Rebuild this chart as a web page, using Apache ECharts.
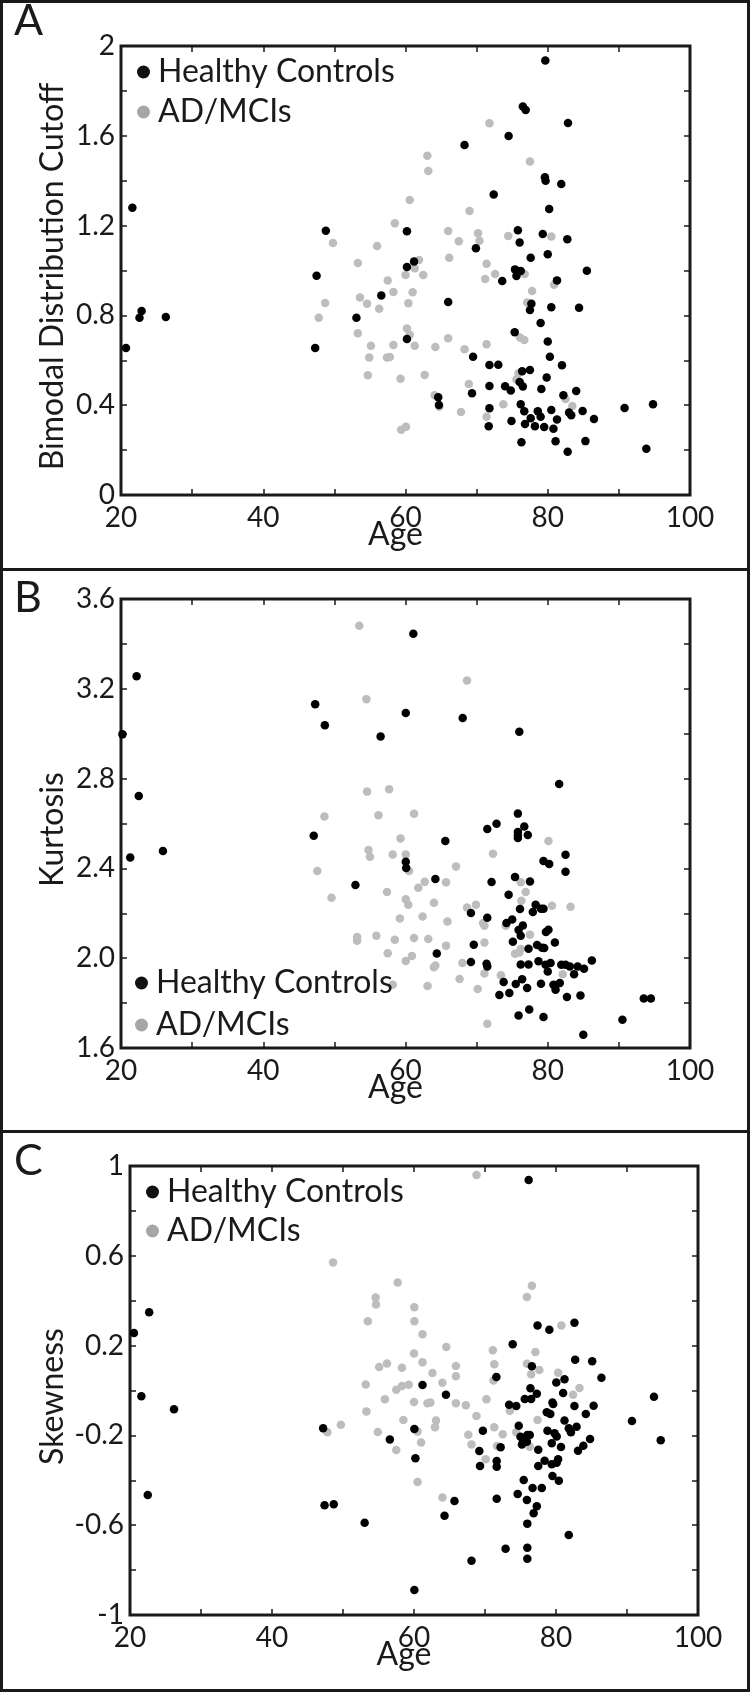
<!DOCTYPE html>
<html>
<head>
<meta charset="utf-8">
<script src="https://cdn.jsdelivr.net/npm/echarts@6/dist/echarts.min.js"></script>
<style>
html,body{margin:0;padding:0;background:#fff;}
#chart{width:750px;height:1692px;}
</style>
</head>
<body>
<div id="chart"></div>
<script>
// ---------------- DATA ----------------
const xTickLabels = ['20','40','60','80','100'];
const yTickLabelsA = ['0','0.4','0.8','1.2','1.6','2'];
const yTickLabelsB = ['1.6','2.0','2.4','2.8','3.2','3.6'];
const yTickLabelsC = ['-1','-0.6','-0.2','0.2','0.6','1'];

const seriesNames = ['Healthy Controls','AD/MCIs'];
const panelLetters = ['A','B','C'];
const yTitles = ['Bimodal Distribution Cutoff','Kurtosis','Skewness'];
const xTitle = 'Age';

// Panel A: Bimodal Distribution Cutoff  [age, value]
const hcA = [[21.6,1.28],[20.7,0.655],[22.6,0.79],[22.9,0.82],[26.3,0.793],[48.8,1.177],[47.5,0.977],[47.3,0.655],[53.1,0.79],[56.6,0.889],[60.2,1.175],[60.2,1.016],[61.2,1.04],[60.2,0.695],
[79.66,1.935],[76.5,1.73],[76.9,1.715],[82.85,1.657],[74.5,1.599],[68.3,1.559],[79.6,1.415],[79.7,1.40],[81.9,1.385],[72.4,1.339],[80.2,1.274],[75.8,1.179],[79.3,1.163],[82.75,1.139],[76.05,1.125],[69.9,1.099],[80.0,1.072],[77.6,1.057],
[75.4,1.005],[76.2,0.998],[75.6,0.975],[85.5,0.999],[73.6,0.953],[81.3,0.956],[66.0,0.86],[77.7,0.852],[77.5,0.824],[80.5,0.836],[84.4,0.834],[79.0,0.766],[75.35,0.725],[80.0,0.684],[69.5,0.616],[80.3,0.616],[71.8,0.579],[73.05,0.58],[82.0,0.578],[76.4,0.551],[77.5,0.557],[79.85,0.523],[76.05,0.503],[76.5,0.483],[71.8,0.486],[74.0,0.484],[74.8,0.465],[79.1,0.472],[69.35,0.453],[82.2,0.444],[84.0,0.463],[64.6,0.435],[64.7,0.401],[71.8,0.386],[76.2,0.404],[76.7,0.373],[78.6,0.373],[79.0,0.349],[77.6,0.342],[80.5,0.379],[83.0,0.368],[83.3,0.355],[84.9,0.374],[81.3,0.336],[86.5,0.339],[90.8,0.388],[94.8,0.404],[74.9,0.330],[71.7,0.306],[76.8,0.316],[78.2,0.306],[79.5,0.303],[80.8,0.295],[76.3,0.235],[81.1,0.239],[85.3,0.24],[82.8,0.193],[93.86,0.206]];
const adA = [[49.8,1.122],[47.8,0.79],[48.7,0.855],[53.3,1.033],[53.6,0.88],[53.3,0.72],[54.6,0.852],[56.0,1.109],[55.15,0.665],[54.9,0.613],[54.7,0.533],[56.3,0.83],[57.5,0.955],[58.5,1.21],[58.3,0.904],[58.3,0.668],[57.4,0.613],[57.8,0.615],[59.3,0.518],[59.4,0.291],[60.07,0.304],[60.6,1.314],[60.0,0.98],[60.4,0.854],[61.0,0.903],[60.2,0.742],[60.6,0.714],[61.3,0.665],[61.3,1.01],[61.9,1.047],[62.5,0.98],[62.7,0.535],[63.07,1.511],[63.2,1.443],
[71.8,1.656],[77.5,1.485],[69.0,1.265],[66.0,1.176],[67.5,1.130],[70.2,1.166],[70.4,1.133],[74.45,1.154],[80.5,1.151],[66.15,1.057],
[71.4,1.030],[72.6,0.984],[71.2,0.962],[76.75,0.984],[80.9,0.937],[77.8,0.909],[77.1,0.857],[66.0,0.698],[64.2,0.659],[68.3,0.649],[71.4,0.671],[76.1,0.702],[76.7,0.69],[68.9,0.494],[75.9,0.542],[75.6,0.515],[64.1,0.444],[64.75,0.393],[67.8,0.370],[73.75,0.404],[71.4,0.349],[82.5,0.428],[83.45,0.396]];

// Panel B: Kurtosis
const hcB = [[20.2,2.997],[22.2,3.256],[22.5,2.723],[21.3,2.449],[25.9,2.477],[47.3,3.131],[48.66,3.038],[47.1,2.545],[52.96,2.326],[56.5,2.988],[60.04,3.092],[61.1,3.445],[60.04,2.43],[60.1,2.402],
[68.04,3.07],[76.0,3.009],[81.6,2.776],[75.8,2.644],
[71.5,2.576],[72.8,2.599],[76.7,2.587],[75.8,2.562],[75.8,2.547],[75.8,2.535],[77.2,2.549],[65.6,2.522],[82.5,2.461],[79.4,2.433],[80.2,2.42],[82.5,2.385],[64.2,2.353],[72.1,2.339],[75.4,2.362],[77.5,2.342],[74.5,2.283],[76.1,2.219],[78.3,2.238],[79.05,2.22],[79.4,2.22],[77.9,2.206],[69.2,2.201],[71.5,2.18],[74.2,2.157],[75.0,2.172],[76.5,2.146],[75.9,2.126],[76.2,2.1],[79.75,2.117],[80.1,2.127],[75.1,2.073],[81.0,2.07],[69.6,2.06],[64.4,2.021],[78.5,2.059],[77.3,2.042],[79.2,2.047],[79.5,2.045],[69.2,1.983],[71.4,1.975],[71.5,1.963],[76.2,1.972],[77.3,1.972],[78.7,1.986],[79.7,1.971],[80.0,1.941],[80.4,1.979],[81.9,1.971],[82.5,1.971],[83.1,1.963],[84.2,1.963],[85.1,1.953],[86.2,1.99],[83.7,1.928],[73.8,1.894],[75.5,1.885],[76.4,1.906],[77.1,1.867],[79.05,1.886],[80.8,1.882],[81.1,1.86],[81.7,1.889],[73.2,1.836],[74.6,1.845],[82.7,1.827],[84.6,1.834],[93.5,1.82],[94.5,1.82],[75.9,1.745],[77.4,1.771],[79.4,1.738],[90.5,1.726],[85.0,1.659]];
const adB = [[53.5,3.481],[54.5,3.154],[54.6,2.742],[57.7,2.753],[48.6,2.631],[56.2,2.637],[61.2,2.643],[59.3,2.533],[54.8,2.482],[55.0,2.452],[58.2,2.462],[60.04,2.462],[47.6,2.388],[60.5,2.388],[49.6,2.269],[57.4,2.295],[61.8,2.314],[62.7,2.34],[60.04,2.263],[60.4,2.238],[59.2,2.177],[62.4,2.186],[53.2,2.094],[53.2,2.078],[55.9,2.1],[58.5,2.082],[61.2,2.09],[63.2,2.085],[57.5,2.022],[60.04,1.987],[60.9,2.01],[58.2,1.882],[63.1,1.876],
[68.65,3.237],
[80.1,2.522],[72.3,2.465],[67.1,2.408],[65.7,2.338],[76.2,2.338],[76.9,2.295],[64.0,2.247],[76.3,2.256],[68.65,2.226],[69.9,2.238],[80.6,2.234],[83.2,2.229],[65.9,2.164],[70.9,2.157],[71.1,2.145],[74.1,2.145],[77.5,2.105],[65.7,2.056],[71.1,2.07],[75.4,2.02],[76.0,2.025],[76.2,2.041],[64.0,1.96],[64.2,1.967],[68.0,1.979],[71.1,1.932],[67.6,1.907],[70.15,1.863],[73.4,1.924],[82.1,1.929],[71.5,1.708]];

// Panel C: Skewness
const hcC = [[20.56,0.256],[22.7,0.349],[21.6,-0.026],[26.2,-0.084],[22.5,-0.465],[47.2,-0.168],[47.4,-0.511],[48.7,-0.507],[53.05,-0.589],[56.6,-0.218],[60.05,-0.171],[60.2,-0.302],[61.2,0.024],[60.05,-0.889],
[76.15,0.938],[77.4,0.289],[79.06,0.271],[82.6,0.302],[73.9,0.206],[76.6,0.108],[82.7,0.137],[85.1,0.13],[71.6,0.06],[86.4,0.057],[80.04,0.036],[81.2,0.05],[76.4,0.01],[81.0,-0.011],[77.3,-0.014],[64.5,-0.019],[75.6,-0.038],[76.5,-0.038],[79.5,-0.053],[79.6,-0.06],[93.8,-0.028],[73.4,-0.063],[74.4,-0.069],[82.6,-0.069],[85.3,-0.068],
[74.75,-0.157],[69.7,-0.179],[90.7,-0.136],[94.75,-0.222],[81.2,-0.134],[81.8,-0.168],[82.1,-0.186],[82.9,-0.161],[84.2,-0.105],[78.7,-0.097],[79.2,-0.105],[84.8,-0.216],[83.85,-0.246],[83.1,-0.268],[79.8,-0.19],[80.1,-0.205],[78.8,-0.179],[79.4,-0.235],[80.7,-0.252],[75.0,-0.206],[75.96,-0.198],[76.3,-0.198],[75.4,-0.224],[75.9,-0.228],[75.2,-0.24],[72.2,-0.253],[69.2,-0.27],[77.5,-0.264],[71.65,-0.314],[71.65,-0.34],[69.3,-0.336],[78.4,-0.313],[77.5,-0.336],[79.4,-0.329],[80.1,-0.322],[80.3,-0.306],[79.5,-0.381],[80.4,-0.402],[75.45,-0.399],[76.7,-0.434],[78.0,-0.434],[71.65,-0.482],[65.7,-0.492],[74.6,-0.461],[75.9,-0.488],[64.3,-0.558],[77.3,-0.516],[76.85,-0.547],[75.96,-0.593],[81.8,-0.644],[72.9,-0.705],[75.96,-0.7],[75.96,-0.749],[68.1,-0.758]];
const adC = [[48.6,0.570],[47.8,-0.186],[49.7,-0.153],[53.5,0.308],[54.6,0.414],[54.65,0.383],[57.7,0.481],[60.05,0.371],[60.05,0.308],[61.2,0.251],[60.0,0.165],[61.2,0.126],[55.1,0.105],[56.2,0.12],[58.3,0.101],[53.2,0.027],[57.5,0.003],[58.3,0.02],[59.25,0.026],[55.9,-0.039],[60.0,-0.051],[61.9,-0.057],[53.3,-0.093],[58.5,-0.131],[54.9,-0.185],[60.5,-0.183],[61.0,-0.232],[57.5,-0.265],[60.5,-0.408],
[68.8,0.96],[76.6,0.467],[75.9,0.416],[80.75,0.289],[64.55,0.194],[71.1,0.179],[65.9,0.109],[65.9,0.063],[62.6,0.078],[64.0,0.035],[71.3,0.117],[71.2,0.045],[75.9,0.119],[76.5,0.072],[77.1,0.171],[77.65,0.091],[80.3,0.079],[83.3,0.011],[82.4,-0.019],[70.2,-0.039],[65.9,-0.057],[67.3,-0.066],[62.3,-0.054],
[73.5,-0.09],[77.4,-0.131],[63.1,-0.134],[62.96,-0.164],[68.8,-0.114],[71.3,-0.164],[67.65,-0.197],[72.5,-0.195],[74.4,-0.186],[68.1,-0.24],[71.7,-0.247],[76.3,-0.25],[70.1,-0.306],[64.0,-0.477]];

// ---------------- CHART ----------------
const FONT = 'Lato, "Open Sans", sans-serif';
const INK = '#1a1a1a';
const HC_COLOR = '#000000';
const AD_COLOR = '#bdbdbd';
const AD_LEGEND = '#a6a6a6';

const panels = [
  {grid:{left:121, top:46, width:569, height:449}, yMin:0, yMax:2, labels:yTickLabelsA, hc:hcA, ad:adA,
   legend:{left:137, top:56, gap:8}, letterTop:0},
  {grid:{left:121, top:599, width:569, height:449}, yMin:1.6, yMax:3.6, labels:yTickLabelsB, hc:hcB, ad:adB,
   legend:{left:135, top:967, gap:10}, letterTop:577},
  {grid:{left:130, top:1166, width:568, height:449}, yMin:-1, yMax:1, labels:yTickLabelsC, hc:hcC, ad:adC,
   legend:{left:146, top:1176, gap:7}, letterTop:1140}
];

function yFmt(labels){
  return function(v){
    const a = String(+(+v).toFixed(1));
    const b = (+v).toFixed(1);
    if (labels.includes(a)) return a;
    if (labels.includes(b)) return b;
    return '';
  };
}
const tickStyle = {inside:true, length:6, lineStyle:{color:INK, width:1.5}};
const labelStyle = {fontSize:28, fontFamily:FONT, color:INK};

const grids = [], xAxes = [], yAxes = [], series = [], legends = [], graphics = [];

panels.forEach((p, i) => {
  grids.push(Object.assign({show:true, borderWidth:3, borderColor:INK, backgroundColor:'transparent'}, p.grid));
  const xBase = {gridIndex:i, type:'value', min:20, max:100, interval:10,
    axisLine:{show:false, onZero:false}, splitLine:{show:false}, axisTick:tickStyle};
  xAxes.push(Object.assign({}, xBase, {position:'bottom',
    axisLabel:Object.assign({margin:9, formatter:v => xTickLabels.includes(String(v)) ? String(v) : ''}, labelStyle)}));
  xAxes.push(Object.assign({}, xBase, {position:'top', axisLabel:{show:false}}));
  const yBase = {gridIndex:i, type:'value', min:p.yMin, max:p.yMax, interval:0.2,
    axisLine:{show:false, onZero:false}, splitLine:{show:false}, axisTick:tickStyle};
  yAxes.push(Object.assign({}, yBase, {position:'left',
    axisLabel:Object.assign({margin:6, formatter:yFmt(p.labels)}, labelStyle)}));
  yAxes.push(Object.assign({}, yBase, {position:'right', axisLabel:{show:false}}));

  series.push({name:seriesNames[1], type:'scatter', xAxisIndex:2*i, yAxisIndex:2*i, data:p.ad,
    symbol:'circle', symbolSize:8.5, itemStyle:{color:AD_COLOR, opacity:1}, silent:true, z:2});
  series.push({name:seriesNames[0], type:'scatter', xAxisIndex:2*i, yAxisIndex:2*i, data:p.hc,
    symbol:'circle', symbolSize:8.5, itemStyle:{color:HC_COLOR, opacity:1}, silent:true, z:3});

  legends.push({left:p.legend.left, top:p.legend.top, orient:'vertical', padding:0,
    itemWidth:13, itemHeight:13, itemGap:p.legend.gap, icon:'circle', selectedMode:false,
    textStyle:{fontSize:32, fontFamily:FONT, color:INK, lineHeight:32, padding:[0,0,0,3]},
    data:[{name:seriesNames[0], itemStyle:{color:'#111', opacity:1}}, {name:seriesNames[1], itemStyle:{color:AD_LEGEND, opacity:1}}]});

  const g = p.grid;
  graphics.push({type:'text', left:14, top:p.letterTop,
    style:{text:panelLetters[i], fontSize:43, fontFamily:FONT, fill:INK}});
  graphics.push({type:'text', x:53, y:g.top + g.height/2 + 6, rotation:Math.PI/2,
    style:{text:yTitles[i], fontSize:32, fontFamily:FONT, fill:INK, align:'center', verticalAlign:'middle'}});
  graphics.push({type:'text', x:g.left + g.width/2 - 10, y:g.top + g.height + 40,
    style:{text:xTitle, fontSize:32, fontFamily:FONT, fill:INK, align:'center', verticalAlign:'middle'}});
});

graphics.push({type:'rect', shape:{x:1.5, y:1.5, width:747, height:1689}, style:{fill:'none', stroke:INK, lineWidth:3}, silent:true});
graphics.push({type:'line', shape:{x1:0, y1:569.5, x2:750, y2:569.5}, style:{stroke:INK, lineWidth:3}, silent:true});
graphics.push({type:'line', shape:{x1:0, y1:1131.5, x2:750, y2:1131.5}, style:{stroke:INK, lineWidth:3}, silent:true});

const chart = echarts.init(document.getElementById('chart'), null, {renderer:'canvas', width:750, height:1692});
chart.setOption({
  animation:false,
  backgroundColor:'#ffffff',
  grid:grids, xAxis:xAxes, yAxis:yAxes, series:series, legend:legends, graphic:graphics
});
</script>
</body>
</html>
